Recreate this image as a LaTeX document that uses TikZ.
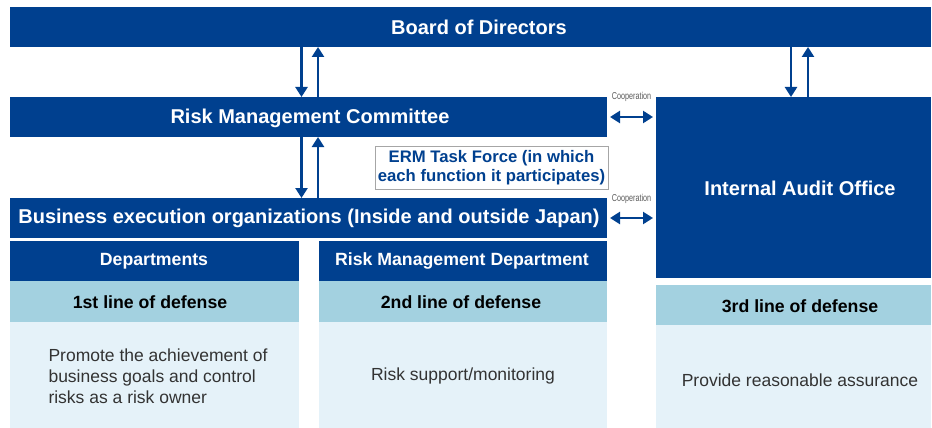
\documentclass[tikz,border=0pt]{standalone}
\usepackage{fontspec}
\setmainfont{Liberation Sans}
\usetikzlibrary{arrows.meta}
\definecolor{dblue}{RGB}{0,64,143}
\definecolor{mblue}{RGB}{163,209,224}
\definecolor{lblue}{RGB}{229,242,249}
\definecolor{txtgray}{RGB}{51,51,51}
\definecolor{coopgray}{RGB}{90,90,90}
\tikzset{
  box/.style={inner sep=0pt, outer sep=0pt, anchor=north west},
  bluebox/.style={box, fill=dblue},
  bigtext/.style={text=white, font=\bfseries\fontsize{20}{24}\selectfont},
  subtext/.style={text=white, font=\bfseries\fontsize{17.7}{21}\selectfont},
  linetext/.style={text=black, font=\bfseries\fontsize{17.7}{21}\selectfont},
  linebox/.style={box, fill=mblue},
  bodybox/.style={box, fill=lblue},
  bodytext/.style={text=txtgray, font=\fontsize{17.5}{21}\selectfont},
  arr/.style={draw=dblue, line width=2.4pt, -{Triangle[width=12pt,length=10pt]}},
  darr/.style={draw=dblue, line width=2.4pt, {Triangle[width=12pt,length=10pt]}-{Triangle[width=12pt,length=10pt]}},
  coop/.style={text=coopgray, font=\fontsize{10}{11}\selectfont, inner sep=0pt}
}
\begin{document}
\begin{tikzpicture}[x=1pt,y=-1pt]
\useasboundingbox (0,0) rectangle (932,428);
% top boxes
\node[bluebox, minimum width=921pt, minimum height=40pt] (board) at (10,7) {};
\node[bigtext] (boardt) at (479,27) {Board of Directors};
\node[bluebox, minimum width=597pt, minimum height=40pt] (rmc) at (10,97) {};
\node[bigtext] (rmct) at (310,118) {Risk Management Committee};
\node[bluebox, minimum width=597pt, minimum height=40pt] (be) at (10,198) {};
\node[bigtext] (bet) at (309,218) {Business execution organizations (Inside and outside Japan)};
\node[bluebox, minimum width=275pt, minimum height=181pt] (ia) at (656,97) {};
\node[bigtext] (iat) at (800,188) {Internal Audit Office};
% ERM task force
\node[box, draw=gray!70, line width=0.8pt, fill=white, minimum width=233pt, minimum height=43pt] (erm) at (375,146) {};
\node[text=dblue, font=\bfseries\fontsize{16.7}{19.5}\selectfont, align=center] (ermt) at (491.5,167.5) {ERM Task Force (in which\\each function it participates)};
% vertical arrows
\coordinate (xa) at (301.5,0);
\coordinate (xb) at (318,0);
\coordinate (xc) at (791,0);
\coordinate (xd) at (808,0);
\draw[arr] (board.south -| xa) -- (rmc.north -| xa);
\draw[arr] (rmc.north -| xb) -- (board.south -| xb);
\draw[arr] (rmc.south -| xa) -- (be.north -| xa);
\draw[arr] (be.north -| xb) -- (rmc.south -| xb);
\draw[arr] (board.south -| xc) -- (ia.north -| xc);
\draw[arr] (ia.north -| xd) -- (board.south -| xd);
% cooperation arrows
\draw[darr, shorten <=3pt, shorten >=3pt] (rmc.east) -- (rmc.east -| ia.west) coordinate[midway] (m1);
\draw[darr, shorten <=3pt, shorten >=3pt] (be.east) -- (be.east -| ia.west) coordinate[midway] (m2);
\node[coop] (coop1) at ([yshift=20pt]m1) {\scalebox{0.72}[1]{Cooperation}};
\node[coop] (coop2) at ([yshift=19pt]m2) {\scalebox{0.72}[1]{Cooperation}};
% columns
\node[bluebox, minimum width=289pt, minimum height=40pt] (dep) at (10,241) {};
\node[subtext] (dept) at (154,261) {Departments};
\node[linebox, minimum width=289pt, minimum height=41pt] (l1) at (10,281) {};
\node[linetext] (l1t) at (150,302) {1st line of defense};
\node[bodybox, minimum width=289pt, minimum height=106pt] (b1) at (10,322) {};
\node[bodytext, align=left, anchor=west] (b1t) at (45,376) {Promote the achievement of\\business goals and control\\risks as a risk owner};

\node[bluebox, minimum width=288pt, minimum height=40pt] (rmd) at (319,241) {};
\node[subtext] (rmdt) at (462,261) {Risk Management Department};
\node[linebox, minimum width=288pt, minimum height=41pt] (l2) at (319,281) {};
\node[linetext] (l2t) at (461,302) {2nd line of defense};
\node[bodybox, minimum width=288pt, minimum height=106pt] (b2) at (319,322) {};
\node[bodytext] (b2t) at (463,376) {Risk support/monitoring};

\node[linebox, minimum width=275pt, minimum height=40pt] (l3) at (656,285) {};
\node[linetext] (l3t) at (800,306) {3rd line of defense};
\node[bodybox, minimum width=275pt, minimum height=103pt] (b3) at (656,325) {};
\node[bodytext] (b3t) at (800,380) {Provide reasonable assurance};
\end{tikzpicture}
\end{document}
